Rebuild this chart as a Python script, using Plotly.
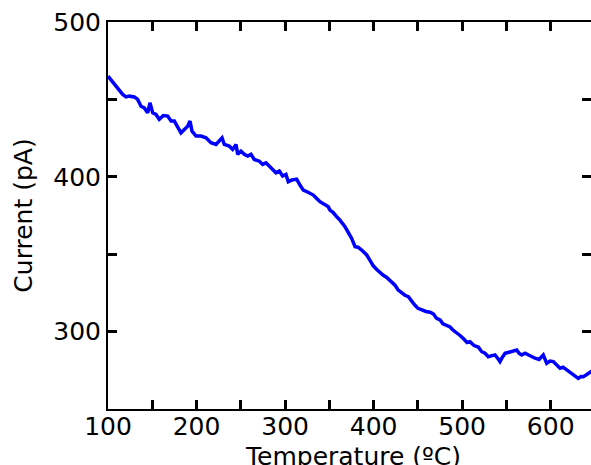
import plotly.graph_objects as go

temperature = [100.0, 101.5, 105.3, 109.0, 112.8, 116.6, 120.3, 124.1, 129.7, 133.5, 137.3,
               141.0, 144.8, 147.4, 150.5, 154.2, 157.9, 162.5, 167.4, 171.2, 174.9,
               178.7, 182.4, 186.2, 190.0, 192.6, 194.9, 199.4, 205.0, 210.7, 216.3,
               222.0, 225.7, 228.8, 231.3, 237.0, 240.8, 244.6, 246.5, 250.2, 253.9,
               257.8, 261.5, 265.2, 270.9, 274.7, 278.4, 282.2, 286.0, 289.7, 293.5,
               297.3, 301.0,
               303.6, 307.8, 313.1, 316.8, 320.6, 325.9, 331.9,
               335.7, 339.4, 345.1, 348.8, 350.7, 354.1, 358.3, 362.0, 367.7, 371.1,
               375.2, 379.0, 382.4, 386.5, 392.2, 395.9, 399.6, 403.8, 407.2, 410.6,
               414.8, 419.6, 424.1, 427.5, 431.7, 435.4, 439.2, 443.3, 446.7, 450.1,
               454.3, 459.1, 463.7, 467.4, 471.2, 475.0, 478.3, 482.5, 486.3, 489.6,
               493.8, 497.6, 501.3, 505.5, 508.8, 513.4, 518.2, 522.1, 525.8, 529.5,
               533.7, 537.1, 540.5, 542.7, 545.0, 548.4, 551.8, 555.9, 561.6, 564.2,
               567.2, 571.0, 574.7, 578.9, 582.3, 586.8, 589.0, 591.6, 595.5, 599.2,
               602.9, 606.0, 610.5, 613.9, 618.0, 621.8, 625.5, 628.6, 631.1, 634.2,
               636.8, 639.9, 644.4, 647.8]

current = [465.0, 463.9, 461.8, 458.6, 456.0, 453.2, 451.6, 452.1, 451.6, 450.0, 445.6,
           444.5, 441.3, 447.8, 441.3, 440.3, 437.1, 439.6, 439.2, 436.0, 436.0,
           431.6, 428.4, 430.6, 432.7, 436.0, 429.5, 426.3, 426.3, 425.2, 422.0,
           420.9, 423.0, 425.2, 420.9, 419.8, 417.7, 420.9, 414.5, 416.6, 414.5,
           413.4, 414.5, 411.2, 410.1, 408.0, 409.0, 406.9, 404.8, 402.6, 403.7,
           400.5, 401.5,
           396.8, 398.0, 398.5, 394.7, 391.4, 390.0, 388.2,
           386.0, 383.9, 382.0, 380.6, 378.5, 377.0, 374.2, 372.0, 367.7, 364.0,
           360.2, 354.8, 354.5, 352.7, 349.5, 346.0, 342.5, 340.0, 338.0, 336.5,
           335.0, 332.0, 330.0, 327.0, 325.0, 323.5, 322.5, 319.0, 317.0, 315.0,
           314.0, 313.0, 312.5, 311.5, 308.5, 307.5, 305.0, 304.0, 303.0, 301.0,
           299.5, 297.5, 295.5, 293.0, 293.5, 291.0, 290.0, 287.0, 286.0, 283.8,
           284.5, 284.9, 282.5, 280.6, 283.0, 286.0, 286.5, 287.0, 288.1, 286.0,
           284.9, 286.0, 284.9, 283.5, 282.8, 282.0, 283.0, 284.9, 279.5, 281.0,
           280.6, 278.5, 276.3, 277.0, 275.2, 273.5, 272.0, 270.5, 269.8, 271.0,
           270.9, 272.0, 274.1, 275.0]

x_tick_values = [100, 150, 200, 250, 300, 350, 400, 450, 500, 550, 600, 650]
x_tick_labels = ["100", "", "200", "", "300", "", "400", "", "500", "", "600", ""]
y_tick_values = [250, 300, 350, 400, 450, 500]
y_tick_labels = ["", "300", "", "400", "", "500"]

FONT = "DejaVu Sans, Verdana, sans-serif"

fig = go.Figure()
fig.add_trace(go.Scatter(
    x=temperature, y=current, mode="lines",
    line=dict(color="#0000FF", width=3.5),
    showlegend=False,
))

axis_common = dict(
    showline=True, linecolor="black", linewidth=2, mirror="allticks",
    ticks="inside", ticklen=9, tickwidth=3, tickcolor="black",
    showgrid=False, zeroline=False,
    tickfont=dict(family=FONT, size=25, color="black"),
)

fig.update_xaxes(
    range=[100, 645.5], tickmode="array",
    tickvals=x_tick_values, ticktext=x_tick_labels,
    ticklabelstandoff=-6,
    **axis_common,
)
fig.update_yaxes(
    range=[250, 500], tickmode="array",
    tickvals=y_tick_values, ticktext=y_tick_labels,
    title=dict(text="Current (pA)", font=dict(family=FONT, size=25, color="black"), standoff=14),
    **axis_common,
)

fig.add_annotation(
    text="Temperature (ºC)", xref="paper", yref="paper", x=0.5, y=0,
    xanchor="center", yanchor="top", yshift=-31, xshift=3, showarrow=False,
    font=dict(family=FONT, size=25, color="black"),
)

fig.update_layout(
    width=591, height=465,
    margin=dict(l=108, r=0, t=22, b=56, autoexpand=False),
    paper_bgcolor="white", plot_bgcolor="white",
    font=dict(family=FONT, color="black"),
)

fig.write_html(
    "out.html",
    config={"displayModeBar": False},
    post_script="document.body.style.margin='0';document.body.style.overflow='hidden';",
)
